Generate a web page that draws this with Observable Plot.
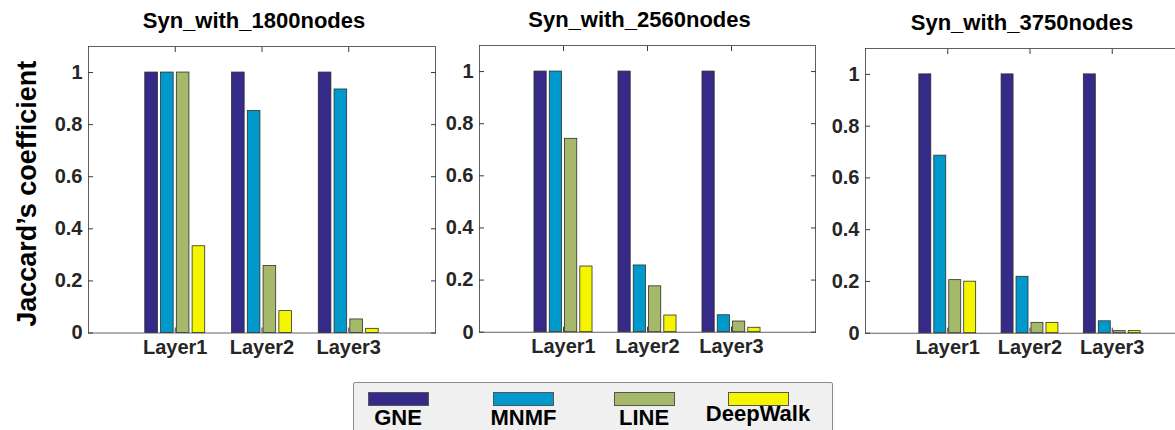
<!DOCTYPE html>
<html><head><meta charset="utf-8">
<script src="https://cdn.jsdelivr.net/npm/d3@7"></script>
<script src="https://cdn.jsdelivr.net/npm/@observablehq/plot@0.6"></script>
<style>
body{margin:0;background:#fff;}
#root{position:relative;width:1175px;height:430px;overflow:hidden;font-family:"Liberation Sans",Arial,sans-serif;}
.panel{position:absolute;top:0;}
#legend{position:absolute;left:353px;top:382px;width:480px;height:80px;background:#f0f0f0;border:1px solid #8c8c8c;border-radius:2px;box-sizing:border-box;}
.sw{position:absolute;top:9px;width:61px;height:14px;box-sizing:border-box;border:1px solid #555;}
.lab{position:absolute;font-size:22px;font-weight:bold;line-height:22px;color:#000;white-space:nowrap;transform:translateX(-50%);}
</style></head><body><div id="root"><div id="legend"></div></div>
<script>
const layers = ["Layer1", "Layer2", "Layer3"];
const methods = ["GNE", "MNMF", "LINE", "DeepWalk"];
const colors = ["#352a87", "#0099cc", "#a6b96b", "#f5f500"];
const titles = ["Syn_with_1800nodes", "Syn_with_2560nodes", "Syn_with_3750nodes"];
const yTicks = [0, 0.2, 0.4, 0.6, 0.8, 1];
const yLabel = "Jaccard’s coefficient";

// values per layer (Layer1, Layer2, Layer3)
const gne1800 = [1, 1, 1];
const mnmf1800 = [1, 0.852, 0.935];
const line1800 = [1, 0.257, 0.052];
const deepwalk1800 = [0.333, 0.084, 0.016];

const gne2560 = [1, 1, 1];
const mnmf2560 = [1, 0.256, 0.065];
const line2560 = [0.742, 0.176, 0.041];
const deepwalk2560 = [0.252, 0.064, 0.017];

const gne3750 = [1, 1, 1];
const mnmf3750 = [0.686, 0.218, 0.046];
const line3750 = [0.205, 0.040, 0.008];
const deepwalk3750 = [0.199, 0.040, 0.008];

const panels = [
  {title: titles[0], vals: [gne1800, mnmf1800, line1800, deepwalk1800], l: 88, r: 435, t: 46, b: 332.5, ml: 88, ylab: true},
  {title: titles[1], vals: [gne2560, mnmf2560, line2560, deepwalk2560], l: 479, r: 815, t: 45, b: 331.7, ml: 44},
  {title: titles[2], vals: [gne3750, mnmf3750, line3750, deepwalk3750], l: 865, r: 1194, t: 48, b: 332.7, ml: 44}
];

const H = 370;
const gw = 4 / (4 + 1.5);       // MATLAB grouped bar width
const bw = (gw / 4) * 0.8;      // single bar width
const root = document.getElementById("root");

panels.forEach(p => {
  const data = [];
  methods.forEach((m, mi) => layers.forEach((L, li) => data.push({method: m, layer: L, value: p.vals[mi][li], mi, li})));
  const center = d => (d.li + 1) - gw / 2 + (d.mi + 0.5) * gw / 4;
  const mr = 10;
  const marks = [
    Plot.rectY(data, {x1: d => center(d) - bw / 2, x2: d => center(d) + bw / 2, y: "value", fill: "method", stroke: "#2e2e2e", strokeWidth: 0.8}),
    Plot.frame({stroke: "#3a3a3a", strokeWidth: 0.8}),
    Plot.axisY({ticks: yTicks, tickSize: -5, tickPadding: 11, tickFormat: d => String(d), label: null, stroke: "#3a3a3a", fill: "#262626", fontSize: 20, fontWeight: "bold"}),
    Plot.axisY({anchor: "right", ticks: yTicks, tickSize: -5, tickFormat: () => "", label: null, stroke: "#3a3a3a"}),
    Plot.axisX({ticks: [1, 2, 3], tickSize: -5, tickPadding: 12, tickFormat: d => layers[d - 1], label: null, stroke: "#3a3a3a", fill: "#262626", fontSize: 20, fontWeight: "bold"}),
    Plot.axisX({anchor: "top", ticks: [1, 2, 3], tickSize: -5, tickFormat: () => "", label: null, stroke: "#3a3a3a"}),
    Plot.text([p.title], {frameAnchor: "top", dy: -26, dx: -8, fontSize: 22, fontWeight: "bold", lineAnchor: "middle", fill: "#000"})
  ];
  if (p.ylab) marks.push(Plot.text([yLabel], {frameAnchor: "left", textAnchor: "middle", rotate: -90, dx: -61, dy: 4, fontSize: 27, fontWeight: "bold", lineAnchor: "middle", fill: "#000"}));
  const chart = Plot.plot({
    width: (p.r - p.l) + p.ml + mr,
    height: H,
    marginLeft: p.ml,
    marginRight: mr,
    marginTop: p.t,
    marginBottom: H - p.b,
    x: {domain: [0, 4]},
    y: {domain: [0, 1.1]},
    color: {domain: methods, range: colors},
    style: {fontFamily: "'Liberation Sans', Arial, sans-serif", fontSize: "20px", fontWeight: "bold", background: "transparent", overflow: "visible"},
    marks
  });
  chart.classList.add("panel");
  chart.style.left = (p.l - p.ml) + "px";
  chart.style.position = "absolute";
  chart.style.top = "0px";
  root.appendChild(chart);
});

// legend
const legend = document.getElementById("legend");
const centers = [44, 169.5, 290, 404];
methods.forEach((m, i) => {
  const sw = document.createElement("div");
  sw.className = "sw";
  sw.style.left = (centers[i] - 30.5) + "px";
  sw.style.background = colors[i];
  legend.appendChild(sw);
  const lab = document.createElement("div");
  lab.className = "lab";
  lab.textContent = m;
  lab.style.left = centers[i] + "px";
  lab.style.top = (m === "DeepWalk" ? 20 : 24) + "px";
  legend.appendChild(lab);
});
</script>
</body></html>
